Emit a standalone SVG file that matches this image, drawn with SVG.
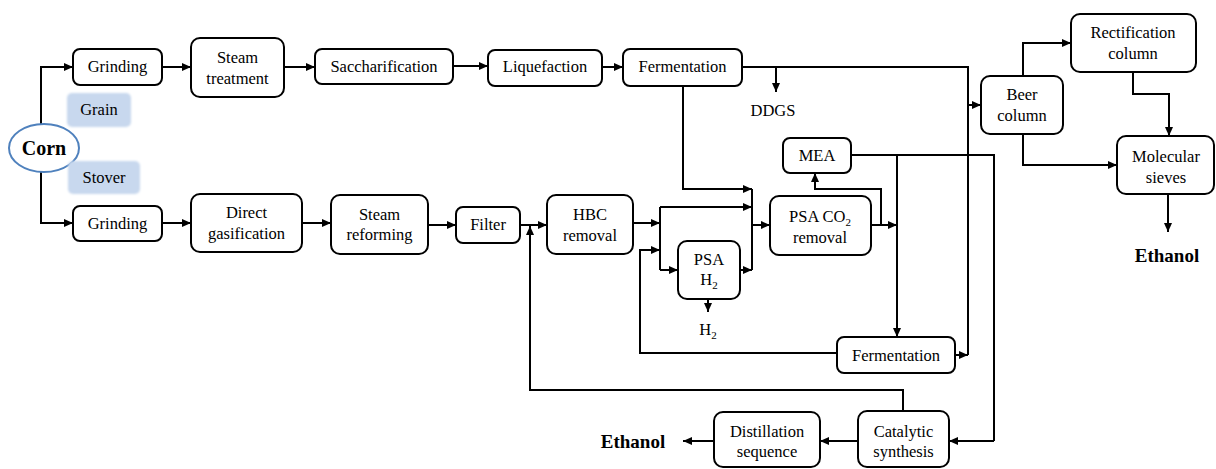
<svg xmlns="http://www.w3.org/2000/svg" width="1216" height="469" viewBox="0 0 1216 469">
  <style>
    .box { fill: #ffffff; stroke: #000000; stroke-width: 2; }
    .tag { fill: #c8d8ee; }
    .t { font-family: 'Liberation Serif', 'Tinos', 'DejaVu Serif', serif; font-size: 16.5px; fill: #000000; text-anchor: middle; }
    .big { font-family: 'Liberation Serif', 'Tinos', 'DejaVu Serif', serif; font-size: 19px; font-weight: bold; fill: #000000; text-anchor: middle; }
    .sub { font-size: 11px; }
    .ln { fill: none; stroke: #000000; stroke-width: 2; }
    .arr { marker-end: url(#ah); }
  </style>
  <defs>
    <marker id="ah" markerUnits="userSpaceOnUse" markerWidth="10" markerHeight="10" viewBox="0 0 10 10" refX="9" refY="5" orient="auto">
      <path d="M0,1 L9,5 L0,9 Z" fill="#000000"/>
    </marker>
    <filter id="soft" x="-10%" y="-10%" width="120%" height="120%">
      <feGaussianBlur stdDeviation="1"/>
    </filter>
  </defs>

  <rect width="1216" height="469" fill="#ffffff"/>

  <!-- connectors -->
  <g id="connectors">
    <!-- corn feed split -->
    <path class="ln arr" d="M41,124 V67 H73"/>
    <path class="ln arr" d="M41,172 V223 H73"/>
    <!-- grain line -->
    <path class="ln arr" d="M162,67 H191"/>
    <path class="ln arr" d="M284,67 H315"/>
    <path class="ln arr" d="M453,66 H488"/>
    <path class="ln arr" d="M602,67 H623"/>
    <path class="ln" d="M742,67 H968 V355"/>
    <path class="ln arr" d="M776,67 V92"/>
    <path class="ln arr" d="M968,105 H981"/>
    <path class="ln arr" d="M683,86 V189 H752"/>
    <!-- stover line -->
    <path class="ln arr" d="M162,223 H191"/>
    <path class="ln arr" d="M302,223 H331"/>
    <path class="ln arr" d="M428,225 H456"/>
    <path class="ln arr" d="M520,225 H547"/>
    <path class="ln arr" d="M633,223 H660"/>
    <path class="ln" d="M660,207 V270"/>
    <path class="ln arr" d="M660,207 H752"/>
    <path class="ln arr" d="M660,270 H678"/>
    <path class="ln arr" d="M740,270 H752"/>
    <path class="ln" d="M752,189 V270"/>
    <path class="ln arr" d="M752,225 H770"/>
    <path class="ln arr" d="M708,299 V312"/>
    <!-- CO2 removal outlets -->
    <path class="ln arr" d="M871,225 H897"/>
    <path class="ln arr" d="M881,225 V189 H815 V173"/>
    <path class="ln" d="M851,155 H994 V441"/>
    <path class="ln arr" d="M994,441 H949"/>
    <path class="ln arr" d="M897,155 V337"/>
    <!-- syngas fermentation -->
    <path class="ln arr" d="M955,355 H968"/>
    <path class="ln arr" d="M837,353 H640 V250 H660"/>
    <!-- catalytic route -->
    <path class="ln arr" d="M903,411 V390 H530 V226"/>
    <path class="ln arr" d="M858,441 H820"/>
    <path class="ln arr" d="M714,441 H683"/>
    <!-- purification -->
    <path class="ln arr" d="M1023,76 V43 H1071"/>
    <path class="ln arr" d="M1023,134 V165 H1117"/>
    <path class="ln arr" d="M1133,72 V94 H1169 V136"/>
    <path class="ln arr" d="M1168,194 V232"/>
  </g>

  <!-- feedstock -->
  <g id="corn">
    <ellipse cx="44" cy="148" rx="35" ry="24" fill="#ffffff" stroke="#4f81bd" stroke-width="2"/>
    <text class="t" x="44" y="155" style="font-size:20px;font-weight:bold">Corn</text>
  </g>
  <g id="grain-tag">
    <rect class="tag" x="67" y="93" width="64" height="34" rx="5" filter="url(#soft)"/>
    <text class="t" x="99" y="115">Grain</text>
  </g>
  <g id="stover-tag">
    <rect class="tag" x="68" y="161" width="72" height="33" rx="5" filter="url(#soft)"/>
    <text class="t" x="104" y="183">Stover</text>
  </g>

  <!-- grain route -->
  <g id="grinding-grain">
    <rect class="box" x="73" y="49" width="89" height="36" rx="7"/>
    <text class="t" x="117.5" y="72">Grinding</text>
  </g>
  <g id="steam-treatment">
    <rect class="box" x="191" y="38" width="93" height="59" rx="9"/>
    <text class="t" x="237.5" y="63">Steam</text>
    <text class="t" x="237.5" y="84">treatment</text>
  </g>
  <g id="saccharification">
    <rect class="box" x="315" y="49" width="138" height="35" rx="7"/>
    <text class="t" x="384" y="72">Saccharification</text>
  </g>
  <g id="liquefaction">
    <rect class="box" x="488" y="50" width="114" height="36" rx="7"/>
    <text class="t" x="545" y="72">Liquefaction</text>
  </g>
  <g id="fermentation-grain">
    <rect class="box" x="623" y="49" width="119" height="37" rx="7"/>
    <text class="t" x="682.5" y="72">Fermentation</text>
  </g>
  <g id="ddgs">
    <text class="t" x="773" y="116">DDGS</text>
  </g>

  <!-- stover route -->
  <g id="grinding-stover">
    <rect class="box" x="73" y="206" width="89" height="35" rx="7"/>
    <text class="t" x="117.5" y="229">Grinding</text>
  </g>
  <g id="direct-gasification">
    <rect class="box" x="191" y="194" width="111" height="58" rx="9"/>
    <text class="t" x="246.5" y="218">Direct</text>
    <text class="t" x="246.5" y="239">gasification</text>
  </g>
  <g id="steam-reforming">
    <rect class="box" x="331" y="195" width="97" height="59" rx="9"/>
    <text class="t" x="379.5" y="220">Steam</text>
    <text class="t" x="379.5" y="240">reforming</text>
  </g>
  <g id="filter">
    <rect class="box" x="456" y="207" width="64" height="36" rx="7"/>
    <text class="t" x="488" y="230">Filter</text>
  </g>
  <g id="hbc-removal">
    <rect class="box" x="547" y="195" width="86" height="59" rx="9"/>
    <text class="t" x="590" y="220">HBC</text>
    <text class="t" x="590" y="241">removal</text>
  </g>
  <g id="psa-h2">
    <rect class="box" x="678" y="241" width="62" height="58" rx="9"/>
    <text class="t" x="709" y="265">PSA</text>
    <text class="t" x="709" y="285">H<tspan class="sub" dy="4">2</tspan></text>
  </g>
  <g id="h2-out">
    <text class="t" x="708" y="335">H<tspan class="sub" dy="4">2</tspan></text>
  </g>
  <g id="psa-co2-removal">
    <rect class="box" x="770" y="196" width="101" height="59" rx="9"/>
    <text class="t" x="820" y="222">PSA CO<tspan class="sub" dy="4">2</tspan></text>
    <text class="t" x="820" y="243">removal</text>
  </g>
  <g id="mea">
    <rect class="box" x="783" y="138" width="68" height="35" rx="7"/>
    <text class="t" x="817" y="161">MEA</text>
  </g>
  <g id="fermentation-syngas">
    <rect class="box" x="837" y="337" width="118" height="36" rx="7"/>
    <text class="t" x="896" y="361">Fermentation</text>
  </g>
  <g id="catalytic-synthesis">
    <rect class="box" x="858" y="411" width="91" height="56" rx="9"/>
    <text class="t" x="903.5" y="437">Catalytic</text>
    <text class="t" x="903.5" y="457">synthesis</text>
  </g>
  <g id="distillation-sequence">
    <rect class="box" x="714" y="412" width="106" height="55" rx="9"/>
    <text class="t" x="767" y="437">Distillation</text>
    <text class="t" x="767" y="457">sequence</text>
  </g>
  <g id="ethanol-catalytic">
    <text class="big" x="633" y="448">Ethanol</text>
  </g>

  <!-- purification -->
  <g id="beer-column">
    <rect class="box" x="981" y="76" width="82" height="58" rx="9"/>
    <text class="t" x="1022" y="100">Beer</text>
    <text class="t" x="1022" y="121">column</text>
  </g>
  <g id="rectification-column">
    <rect class="box" x="1071" y="14" width="125" height="58" rx="9"/>
    <text class="t" x="1133" y="38">Rectification</text>
    <text class="t" x="1133" y="59">column</text>
  </g>
  <g id="molecular-sieves">
    <rect class="box" x="1117" y="136" width="97" height="58" rx="9"/>
    <text class="t" x="1166" y="162">Molecular</text>
    <text class="t" x="1166" y="183">sieves</text>
  </g>
  <g id="ethanol-biochemical">
    <text class="big" x="1167" y="262">Ethanol</text>
  </g>
</svg>
